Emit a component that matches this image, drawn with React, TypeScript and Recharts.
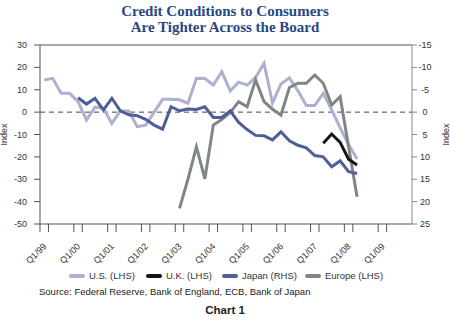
import { LineChart, Line, XAxis, YAxis, ReferenceLine } from 'recharts';

// quarterly series, 1999Q1 .. 2008Q2
const quarters = [
  '1999Q1', '1999Q2', '1999Q3', '1999Q4', '2000Q1', '2000Q2', '2000Q3', '2000Q4',
  '2001Q1', '2001Q2', '2001Q3', '2001Q4', '2002Q1', '2002Q2', '2002Q3', '2002Q4',
  '2003Q1', '2003Q2', '2003Q3', '2003Q4', '2004Q1', '2004Q2', '2004Q3', '2004Q4',
  '2005Q1', '2005Q2', '2005Q3', '2005Q4', '2006Q1', '2006Q2', '2006Q3', '2006Q4',
  '2007Q1', '2007Q2', '2007Q3', '2007Q4', '2008Q1', '2008Q2',
];

const usLHS = [
  14.4, 15.1, 8.4, 8.4, 4.7, -3.5, 2.2, 1.7, -5.0, 0.5, 0.5, -6.5,
  -5.8, 0, 5.7, 5.7, 5.5, 4.0, 15.1, 15.0, 12.1, 18.1, 9.5, 13.4,
  12.1, 15.5, 21.8, 4.1, 12.6, 15.3, 9.6, 3.0, 3.0, 8.4, 1.0, -7.0,
  -14.5, -21.0,
];

const ukLHS = [
  null, null, null, null, null, null, null, null, null, null, null, null,
  null, null, null, null, null, null, null, null, null, null, null, null,
  null, null, null, null, null, null, null, null, null, -13.9, -9.8, -13.5,
  -21.0, -23.6,
];

const japanRHS = [
  null, null, null, null, -3.2, -1.8, -3.1, -0.5, -3.1, -0.3, 0.6, 0.8,
  1.6, 2.9, 3.8, -1.2, -0.3, -0.7, -0.6, -1.2, 1.2, 1.2, -0.3, 2.3,
  3.9, 5.2, 5.3, 6.2, 4.4, 6.4, 7.4, 8.0, 9.7, 10.0, 12.2, 10.9,
  13.3, 13.7,
];

const europeLHS = [
  null, null, null, null, null, null, null, null, null, null, null, null,
  null, null, null, null, -43.0, -30.0, -15.5, -29.8, -5.8, -3.3, -0.2, 4.7,
  2.4, 14.4, 4.7, 1.3, -1.3, 11.0, 12.9, 12.9, 16.6, 12.9, 3.2, 6.9,
  -15.5, -37.8,
];

const xTickLabels = [
  'Q1/99', 'Q1/00', 'Q1/01', 'Q1/02', 'Q1/03', 'Q1/04',
  'Q1/05', 'Q1/06', 'Q1/07', 'Q1/08', 'Q1/09',
];
const leftTicks = [30, 20, 10, 0, -10, -20, -30, -40, -50];
const rightTicks = [-15, -10, -5, 0, 5, 10, 15, 20, 25];

const data = quarters.map((q, i) => ({
  quarter: q,
  x: i + 0.5,
  us: usLHS[i],
  uk: ukLHS[i],
  japan: japanRHS[i],
  europe: europeLHS[i],
}));

// a tick at Q1 and Q2 of each year, label only on Q1
const xTicks = xTickLabels.flatMap((_, i) => [i * 4, i * 4 + 1]);

const COLORS = {
  us: '#aeb0d0',
  uk: '#151515',
  japan: '#4d5f96',
  europe: '#7f8784',
};

const FONT = '"Liberation Sans", Arial, sans-serif';

const XTick = ({ x, payload }: any) => {
  const v = payload.value;
  if (v % 4 !== 0) return null;
  const label = xTickLabels[v / 4];
  const ax = x + 7;
  const ay = 247;
  return (
    <text
      x={ax}
      y={ay}
      textAnchor="end"
      fontSize={9}
      fill="#333"
      fontFamily={FONT}
      transform={`rotate(-45, ${ax}, ${ay})`}
    >
      {label}
    </text>
  );
};

const LeftTick = ({ y, payload }: any) => (
  <text x={27} y={y + 3} textAnchor="end" fontSize={9} fill="#333" fontFamily={FONT}>
    {payload.value}
  </text>
);

const RightTick = ({ y, payload }: any) => (
  <text x={425} y={y + 3} textAnchor="middle" fontSize={9} fill="#333" fontFamily={FONT}>
    {payload.value}
  </text>
);

const legendItems = [
  { key: 'us', label: 'U.S. (LHS)', left: 69 },
  { key: 'uk', label: 'U.K. (LHS)', left: 146 },
  { key: 'japan', label: 'Japan (RHS)', left: 222 },
  { key: 'europe', label: 'Europe (LHS)', left: 305 },
];

export default function App() {
  return (
    <div style={{ position: 'absolute', left: 0, top: 0, width: 450, height: 329, background: '#fff', fontFamily: FONT }}>
      <div
        style={{
          position: 'absolute',
          left: 0,
          top: 3,
          width: 450,
          textAlign: 'center',
          fontFamily: '"Liberation Serif", "Times New Roman", serif',
          fontWeight: 'bold',
          fontSize: 15,
          lineHeight: '16px',
          color: '#2a4784',
        }}
      >
        Credit Conditions to Consumers
        <br />
        Are Tighter Across the Board
      </div>

      <div style={{ position: 'absolute', left: 0, top: 0 }}>
        <LineChart width={450} height={329} data={data} margin={{ top: 45, right: 0, bottom: 65, left: 0 }}>
          <XAxis
            dataKey="x"
            type="number"
            domain={[0, 44]}
            ticks={xTicks}
            interval={0}
            tick={<XTick />}
            tickSize={8}
            height={40}
            stroke="#555"
            allowDataOverflow
          />
          <YAxis
            yAxisId="left"
            orientation="left"
            domain={[-50, 30]}
            ticks={leftTicks}
            interval={0}
            width={40}
            tickSize={6}
            tick={<LeftTick />}
            stroke="#555"
            label={{ value: 'Index', angle: -90, position: 'insideLeft', offset: 4, style: { fontSize: 9, fill: '#333', fontFamily: FONT, textAnchor: 'middle' } }}
          />
          <YAxis
            yAxisId="right"
            orientation="right"
            domain={[-15, 25]}
            reversed
            ticks={rightTicks}
            interval={0}
            width={38}
            tickSize={5}
            tick={<RightTick />}
            stroke="#888"
            label={{ value: 'Index', angle: -90, position: 'insideRight', offset: 4, style: { fontSize: 9, fill: '#333', fontFamily: FONT, textAnchor: 'middle' } }}
          />
          <ReferenceLine yAxisId="left" y={30} stroke="#555" strokeWidth={1} />
          <ReferenceLine yAxisId="left" y={0} stroke="#444" strokeDasharray="5 4" strokeWidth={1} />
          <Line yAxisId="left" dataKey="us" stroke={COLORS.us} strokeWidth={3} dot={false} isAnimationActive={false} />
          <Line yAxisId="left" dataKey="europe" stroke={COLORS.europe} strokeWidth={3} dot={false} isAnimationActive={false} />
          <Line yAxisId="right" dataKey="japan" stroke={COLORS.japan} strokeWidth={3} dot={false} isAnimationActive={false} />
          <Line yAxisId="left" dataKey="uk" stroke={COLORS.uk} strokeWidth={3} dot={false} isAnimationActive={false} />
        </LineChart>
      </div>

      {legendItems.map((item) => (
        <div
          key={item.key}
          style={{ position: 'absolute', left: item.left, top: 270, display: 'flex', alignItems: 'center', fontSize: 9.5, color: '#333', whiteSpace: 'nowrap' }}
        >
          <span
            style={{
              display: 'inline-block',
              width: 16,
              height: 4,
              borderRadius: 2,
              background: COLORS[item.key as keyof typeof COLORS],
              marginRight: 4,
            }}
          />
          <span>{item.label}</span>
        </div>
      ))}

      <div style={{ position: 'absolute', left: 39, top: 286, fontSize: 9.5, color: '#222', whiteSpace: 'nowrap' }}>
        Source: Federal Reserve, Bank of England, ECB, Bank of Japan
      </div>

      <div style={{ position: 'absolute', left: 0, top: 304, width: 450, textAlign: 'center', fontSize: 11.5, fontWeight: 'bold', color: '#222' }}>
        Chart 1
      </div>
    </div>
  );
}
